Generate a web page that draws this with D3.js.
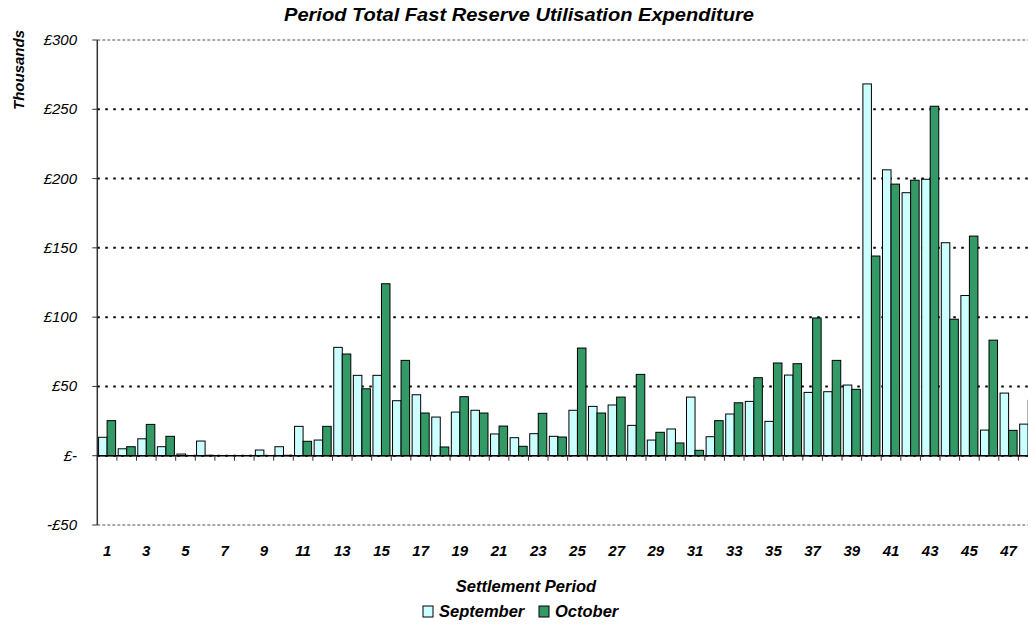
<!DOCTYPE html>
<html>
<head>
<meta charset="utf-8">
<script src="https://d3js.org/d3.v7.min.js"></script>
<style>
  body { margin: 0; background: #fff; }
  text { font-family: "Liberation Sans", Arial, sans-serif; font-style: italic; }
</style>
</head>
<body>
<div id="chart"></div>
<script>

// settlement periods 1..48
const periods = d3.range(1, 49);
const seriesNames = ["September", "October"];

// expenditure in thousands of pounds
const september = [13.3, 5, 12.2, 6.5, 1.2, 10.6, 0, 0, 4.1, 6.5, 21.2, 11.3,
  78.2, 58, 58, 39.7, 44, 27.9, 31.5, 32.8, 15.7, 13, 15.9, 14,
  32.8, 35.6, 36.6, 21.9, 11.3, 19.3, 42.3, 13.7, 30.1, 39.2, 24.8, 58.2,
  45.7, 46.2, 51, 268.3, 206.3, 189.8, 199.5, 153.7, 115.6, 18.5, 45.2, 22.8];
const october = [25.3, 6.5, 22.6, 14, 0, 0.3, 0, 0, 0, 0.3, 10.4, 21.2,
  73.4, 48.3, 124.1, 68.8, 30.8, 6.3, 42.6, 30.8, 21.4, 6.8, 30.6, 13.5,
  77.7, 30.8, 42.3, 58.7, 16.9, 9.2, 3.9, 25.3, 38.2, 56.3, 66.9, 66.4,
  99.4, 68.8, 47.9, 144.1, 196, 198.8, 252.2, 98.5, 158.5, 83.4, 18.3, 40];

const yTicks = [-50, 0, 50, 100, 150, 200, 250, 300];
const yTickLabels = ["-£50", "£-", "£50", "£100", "£150", "£200", "£250", "£300"];

const colors = {September: "#ccffff", October: "#339966"};

const width = 1028, height = 624;
// plot runs a little past the right edge of the window, as in the original
const plot = {left: 97.3, right: 1038, top: 40, bottom: 525};

const svg = d3.select("#chart")
  .append("svg")
    .attr("width", width)
    .attr("height", height);

const x0 = d3.scaleBand()
    .domain(periods)
    .range([plot.left, plot.right])
    .paddingInner(0.13)
    .paddingOuter(0.065);

const x1 = d3.scaleBand()
    .domain(seriesNames)
    .range([0, x0.bandwidth()]);

const y = d3.scaleLinear()
    .domain([-50, 300])
    .range([plot.bottom, plot.top]);

// boundaries between categories, for tick marks
const xb = d3.scaleLinear()
    .domain([0, periods.length])
    .range([plot.left, plot.right]);

// gridlines
svg.append("g")
  .selectAll("line")
  .data(yTicks)
  .join("line")
    .attr("x1", plot.left)
    .attr("x2", plot.right)
    .attr("y1", d => y(d))
    .attr("y2", d => y(d))
    .attr("stroke", d => (d == 300 || d == -50) ? "#8c8c8c" : "#000")
    .attr("stroke-width", d => (d == 300 || d == -50) ? 1.6 : 2)
    .attr("stroke-dasharray", d => (d == 300 || d == -50) ? "3,2" : "2.5,5.5");

// bars
const rows = periods.map((p, i) => ({period: p, September: september[i], October: october[i]}));

svg.append("g")
  .selectAll("g")
  .data(rows)
  .join("g")
    .attr("transform", d => `translate(${x0(d.period)},0)`)
  .selectAll("rect")
  .data(d => seriesNames.map(s => ({key: s, value: d[s]})).filter(v => v.value > 0))
  .join("rect")
    .attr("x", d => x1(d.key))
    .attr("width", x1.bandwidth())
    .attr("y", d => y(d.value))
    .attr("height", d => y(0) - y(d.value))
    .attr("fill", d => colors[d.key])
    .attr("stroke", "#000")
    .attr("stroke-width", 1);

// y axis
svg.append("line")
    .attr("x1", plot.left).attr("x2", plot.left)
    .attr("y1", plot.top).attr("y2", plot.bottom)
    .attr("stroke", "#333").attr("stroke-width", 1.5);

svg.append("g")
  .selectAll("line")
  .data(yTicks)
  .join("line")
    .attr("x1", plot.left - 5).attr("x2", plot.left)
    .attr("y1", d => y(d)).attr("y2", d => y(d))
    .attr("stroke", "#333");

svg.append("g")
  .selectAll("text")
  .data(yTicks)
  .join("text")
    .attr("x", 77)
    .attr("y", d => y(d) + 5)
    .attr("text-anchor", "end")
    .style("font-size", "15px")
    .text((d, i) => yTickLabels[i]);

// x axis along zero
svg.append("line")
    .attr("x1", plot.left).attr("x2", plot.right)
    .attr("y1", y(0)).attr("y2", y(0))
    .attr("stroke", "#000").attr("stroke-width", 1.5);

svg.append("g")
  .selectAll("line")
  .data(d3.range(0, periods.length + 1))
  .join("line")
    .attr("x1", d => xb(d)).attr("x2", d => xb(d))
    .attr("y1", y(0)).attr("y2", y(0) + 5)
    .attr("stroke", "#333");

svg.append("g")
  .selectAll("text")
  .data(periods.filter(p => p % 2 == 1))
  .join("text")
    .attr("x", d => x0(d) + x0.bandwidth() / 2)
    .attr("y", 556)
    .attr("text-anchor", "middle")
    .style("font-size", "15px")
    .style("font-weight", "bold")
    .text(d => d);

// titles
svg.append("text")
    .attr("x", 519)
    .attr("y", 21)
    .attr("text-anchor", "middle")
    .attr("textLength", 470)
    .attr("lengthAdjust", "spacingAndGlyphs")
    .style("font-size", "18px")
    .style("font-weight", "bold")
    .text("Period Total Fast Reserve Utilisation Expenditure");

svg.append("text")
    .attr("transform", "translate(24,70) rotate(-90)")
    .attr("text-anchor", "middle")
    .style("font-size", "15px")
    .style("font-weight", "bold")
    .text("Thousands");

svg.append("text")
    .attr("x", 526)
    .attr("y", 592)
    .attr("text-anchor", "middle")
    .style("font-size", "16.5px")
    .style("font-weight", "bold")
    .text("Settlement Period");

// legend
const legendX = [423, 539];
const legend = svg.append("g")
  .selectAll("g")
  .data(seriesNames)
  .join("g")
    .attr("transform", (d, i) => `translate(${legendX[i]},606)`);

legend.append("rect")
    .attr("width", 10)
    .attr("height", 11)
    .attr("fill", d => colors[d])
    .attr("stroke", "#000");

legend.append("text")
    .attr("x", 16)
    .attr("y", 11)
    .style("font-size", "16.5px")
    .style("font-weight", "bold")
    .text(d => d);

</script>
</body>
</html>
